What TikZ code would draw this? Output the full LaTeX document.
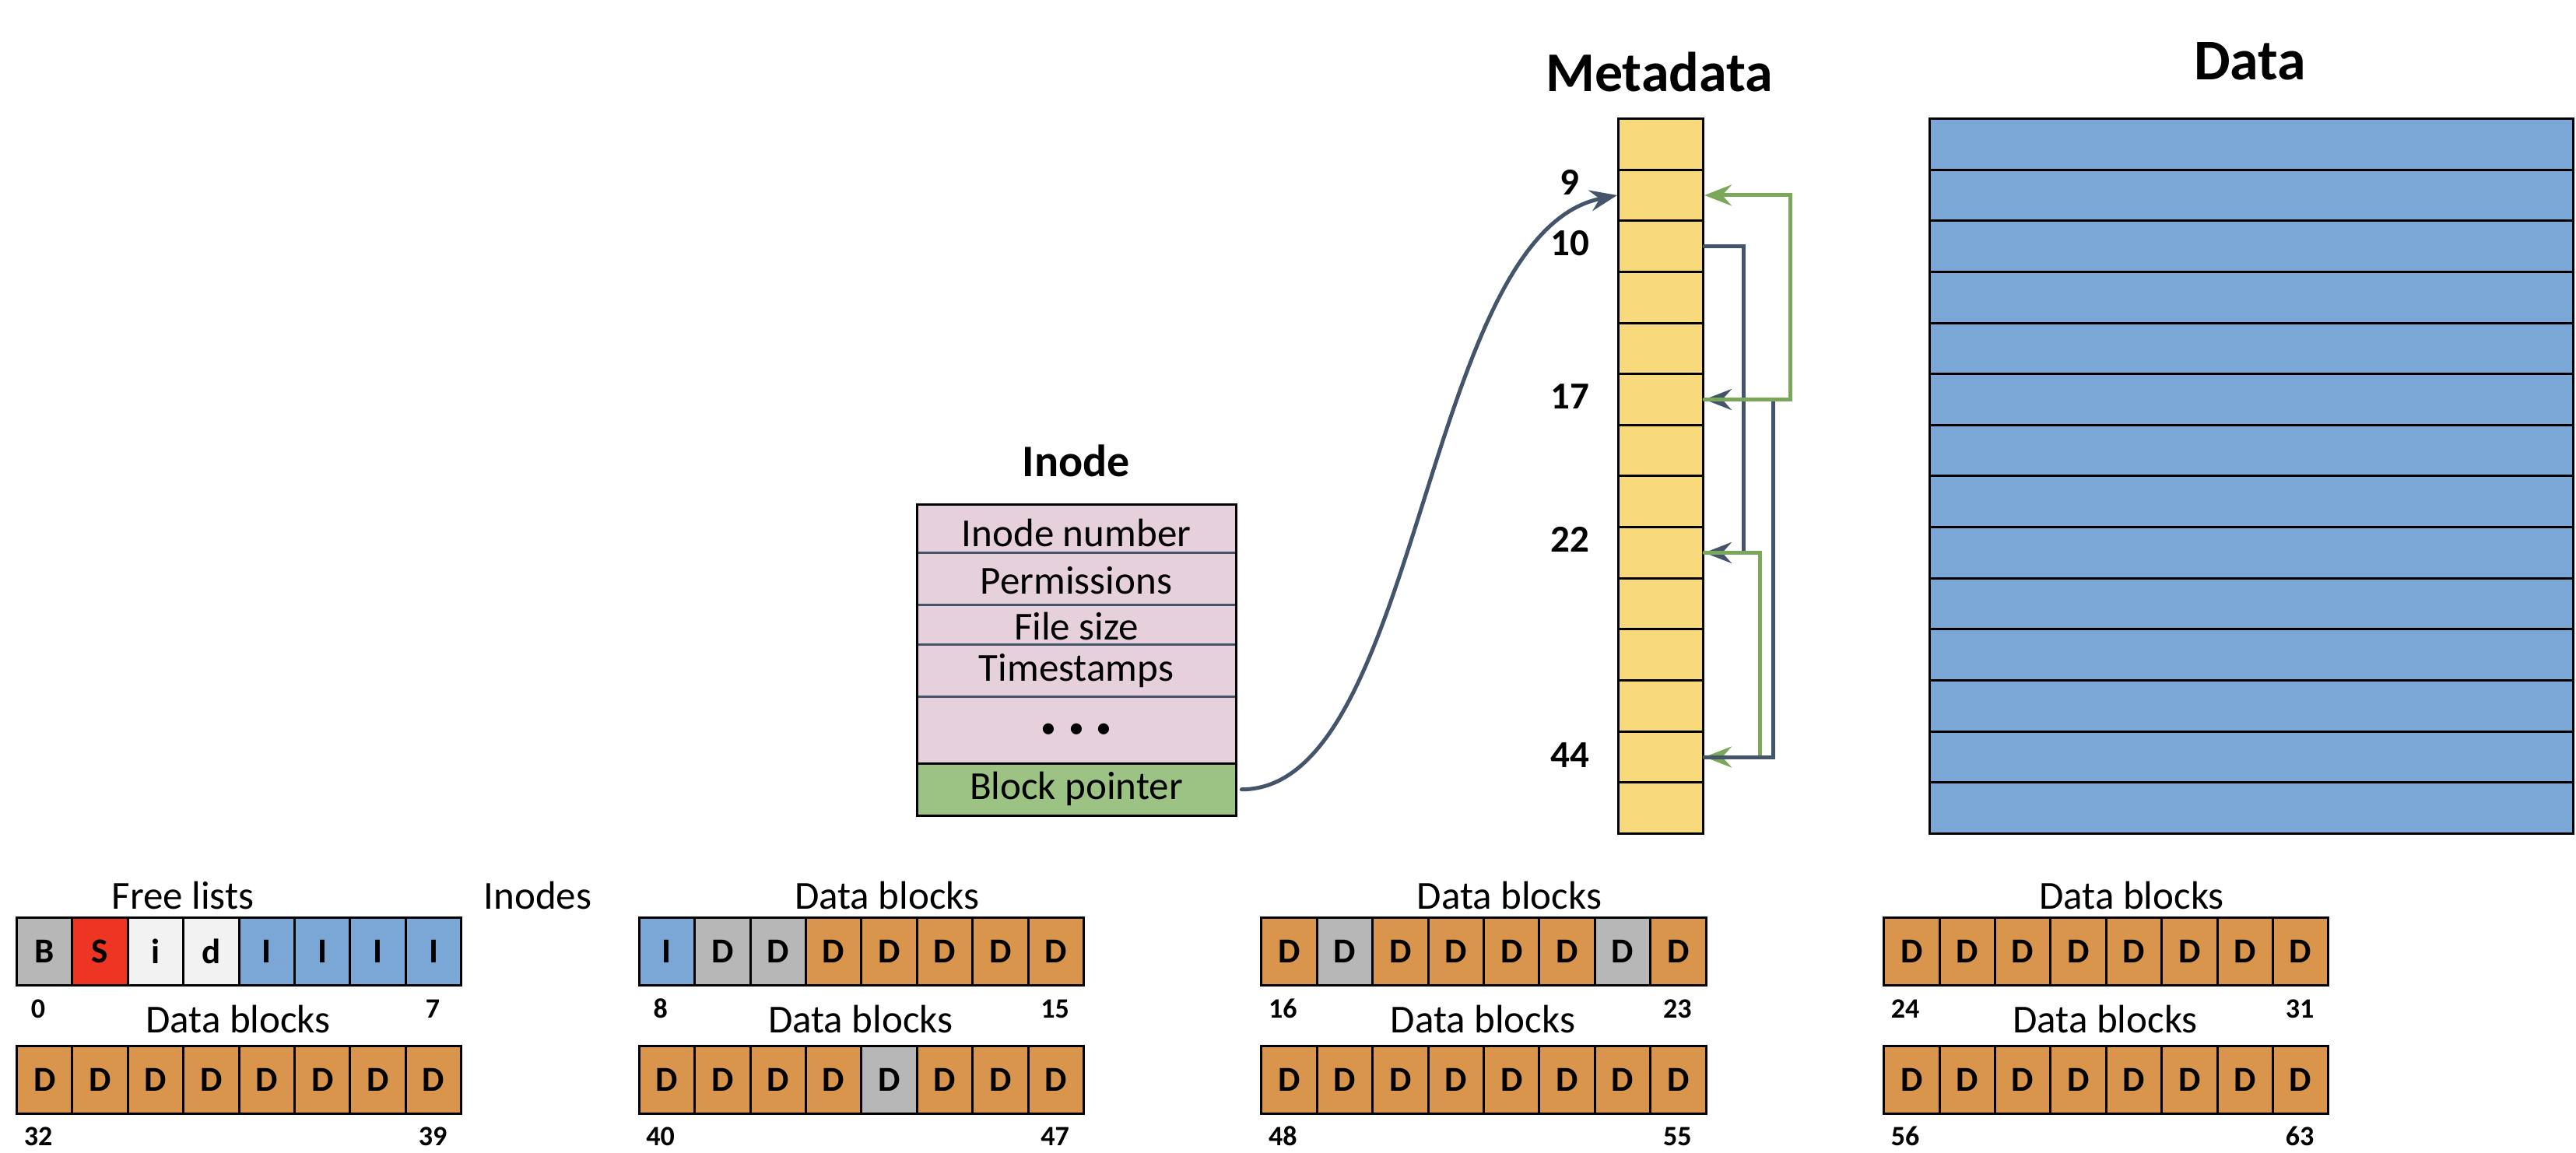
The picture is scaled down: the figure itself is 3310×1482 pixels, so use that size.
\documentclass[tikz,border=0pt]{standalone}
\usepackage{fontspec}
\setmainfont{Carlito}
\usetikzlibrary{arrows.meta}
\definecolor{cgray}{HTML}{B7B7B7}
\definecolor{cred}{HTML}{EE3524}
\definecolor{clight}{HTML}{F2F2F2}
\definecolor{cblue}{HTML}{7BA7D7}
\definecolor{corange}{HTML}{D9954B}
\definecolor{cyellow}{HTML}{F8DA7C}
\definecolor{cpink}{HTML}{E6D0DC}
\definecolor{cgreen}{HTML}{9DC384}
\definecolor{cslate}{HTML}{44546A}
\definecolor{cgline}{HTML}{7AA75A}
\newcommand\blockrow[4]{%
  \foreach \cc/\lt [count=\i from 0] in {#4} {
    \node[cellbox, fill=\cc] (#1-\i) at ({#2+\i*71.4},#3) {\lt};
  }}
\begin{document}
\begin{tikzpicture}[x=1pt,y=-1pt,
  cellbox/.style={draw=black, line width=3pt, minimum width=71.4pt, minimum height=87pt, inner sep=0pt, anchor=north west, font=\fontsize{45}{45}\selectfont\bfseries},
  lbl/.style={inner sep=0pt, anchor=base, font=\fontsize{51}{51}\selectfont},
  idx/.style={inner sep=0pt, anchor=base, font=\fontsize{36}{36}\selectfont\bfseries},
  mlbl/.style={inner sep=0pt, anchor=base, font=\fontsize{49}{49}\selectfont\bfseries},
  ttl/.style={inner sep=0pt, anchor=base, font=\bfseries},
  mcell/.style={draw=black, line width=3pt, fill=cyellow, minimum width=109pt, minimum height=65.64pt, inner sep=0pt, anchor=north west},
  dcell/.style={draw=black, line width=3pt, fill=cblue, minimum width=827pt, minimum height=65.64pt, inner sep=0pt, anchor=north west},
  inrow/.style={draw=none, minimum width=410pt, inner sep=0pt, anchor=north west},
  rowtxt/.style={inner sep=0pt, anchor=base, font=\fontsize{51}{51}\selectfont},
  conn/.style={line width=5pt, line cap=round, line join=miter},
  tip/.style={-{Stealth[length=35pt,width=27pt,inset=12pt]}}
]
\useasboundingbox (0,0) rectangle (3310,1482);

% ---------- bottom block rows ----------
\blockrow{ga}{20}{1178}{cgray/B,cred/S,clight/i,clight/d,cblue/I,cblue/I,cblue/I,cblue/I}
\blockrow{gb}{20}{1343}{corange/D,corange/D,corange/D,corange/D,corange/D,corange/D,corange/D,corange/D}
\blockrow{gc}{819.7}{1178}{cblue/I,cgray/D,cgray/D,corange/D,corange/D,corange/D,corange/D,corange/D}
\blockrow{gd}{819.7}{1343}{corange/D,corange/D,corange/D,corange/D,cgray/D,corange/D,corange/D,corange/D}
\blockrow{ge}{1619.4}{1178}{corange/D,cgray/D,corange/D,corange/D,corange/D,corange/D,cgray/D,corange/D}
\blockrow{gf}{1619.4}{1343}{corange/D,corange/D,corange/D,corange/D,corange/D,corange/D,corange/D,corange/D}
\blockrow{gg}{2419.1}{1178}{corange/D,corange/D,corange/D,corange/D,corange/D,corange/D,corange/D,corange/D}
\blockrow{gh}{2419.1}{1343}{corange/D,corange/D,corange/D,corange/D,corange/D,corange/D,corange/D,corange/D}

\node[lbl] (la) at (235,1168) {Free lists};
\node[lbl] (lin) at (691,1168) {Inodes};
\node[lbl] (lb) at (306,1327) {Data blocks};
\node[lbl] (lc) at (1139.7,1168) {Data blocks};
\node[lbl] (ld) at (1105.7,1327) {Data blocks};
\node[lbl] (le) at (1939.4,1168) {Data blocks};
\node[lbl] (lf) at (1905.4,1327) {Data blocks};
\node[lbl] (lg) at (2739.1,1168) {Data blocks};
\node[lbl] (lh) at (2705.1,1327) {Data blocks};

\node[idx] (i0) at (49,1308) {0};
\node[idx] (i7) at (556,1308) {7};
\node[idx] (i32) at (49,1472) {32};
\node[idx] (i39) at (556,1472) {39};
\node[idx] (i8) at (848.7,1308) {8};
\node[idx] (i15) at (1355.7,1308) {15};
\node[idx] (i40) at (848.7,1472) {40};
\node[idx] (i47) at (1355.7,1472) {47};
\node[idx] (i16) at (1648.4,1308) {16};
\node[idx] (i23) at (2155.4,1308) {23};
\node[idx] (i48) at (1648.4,1472) {48};
\node[idx] (i55) at (2155.4,1472) {55};
\node[idx] (i24) at (2448.1,1308) {24};
\node[idx] (i31) at (2955.1,1308) {31};
\node[idx] (i56) at (2448.1,1472) {56};
\node[idx] (i63) at (2955.1,1472) {63};

% ---------- inode ----------
\node[ttl, font=\fontsize{58}{58}\selectfont\bfseries] (inodet) at (1383,612) {Inode};
\node[inrow, fill=cpink, minimum height=62pt] (r1) at (1178,648) {};
\node[inrow, fill=cpink, minimum height=67pt] (r2) at (1178,710) {};
\node[inrow, fill=cpink, minimum height=51pt] (r3) at (1178,777) {};
\node[inrow, fill=cpink, minimum height=67pt] (r4) at (1178,828) {};
\node[inrow, fill=cpink, minimum height=86pt] (r5) at (1178,895) {};
\node[inrow, fill=cgreen, minimum height=67pt] (bp) at (1178,981) {};
\node[rowtxt] (t1) at (1383,702) {Inode number};
\node[rowtxt] (t2) at (1383,763) {Permissions};
\node[rowtxt] (t3) at (1383,822) {File size};
\node[rowtxt] (t4) at (1383,875) {Timestamps};
\node[rowtxt, anchor=center, font=\fontsize{40}{40}\selectfont] (t5) at (1383,939) {•\hspace{16pt}•\hspace{16pt}•};
\node[rowtxt] (t6) at (1383,1027) {Block pointer};
\foreach \r in {r1,r2,r3,r4}
  \draw[cslate, line width=3pt] (\r.south west) -- (\r.south east);
\draw[black, line width=3pt] (r5.south west) -- (r5.south east);
\draw[black, line width=3pt] (r1.north west) rectangle (bp.south east);

% ---------- metadata ----------
\node[ttl, font=\fontsize{72}{72}\selectfont\bfseries] (metat) at (2132,118) {Metadata};
\foreach \i in {0,...,13}
  \node[mcell] (m\i) at (2078,{151+\i*65.64}) {};
\node[mlbl] (n9) at (2017,250) {9};
\node[mlbl] (n10) at (2017,328) {10};
\node[mlbl] (n17) at (2017,525) {17};
\node[mlbl] (n22) at (2017,709) {22};
\node[mlbl] (n44) at (2017,986) {44};

% ---------- data ----------
\node[ttl, font=\fontsize{74}{74}\selectfont\bfseries] (datat) at (2891,103) {Data};
\foreach \i in {0,...,13}
  \node[dcell] (d\i) at (2478,{151+\i*65.64}) {};

% ---------- connectors ----------
\draw[conn, cslate, tip] ([xshift=7pt]bp.east) .. controls +(230,0) and +(-250,50) .. (m1.west);
\draw[conn, cslate, tip] (m2.east) -- ++(50,0) |- (m8.east);
\draw[conn, cgline, tip] (m8.east) -- ++(71,0) |- (m12.east);
\draw[conn, cslate, tip] (m12.east) -- ++(88,0) |- (m5.east);
\draw[conn, cgline, tip] (m5.east) -- ++(110,0) |- (m1.east);
\end{tikzpicture}
\end{document}
